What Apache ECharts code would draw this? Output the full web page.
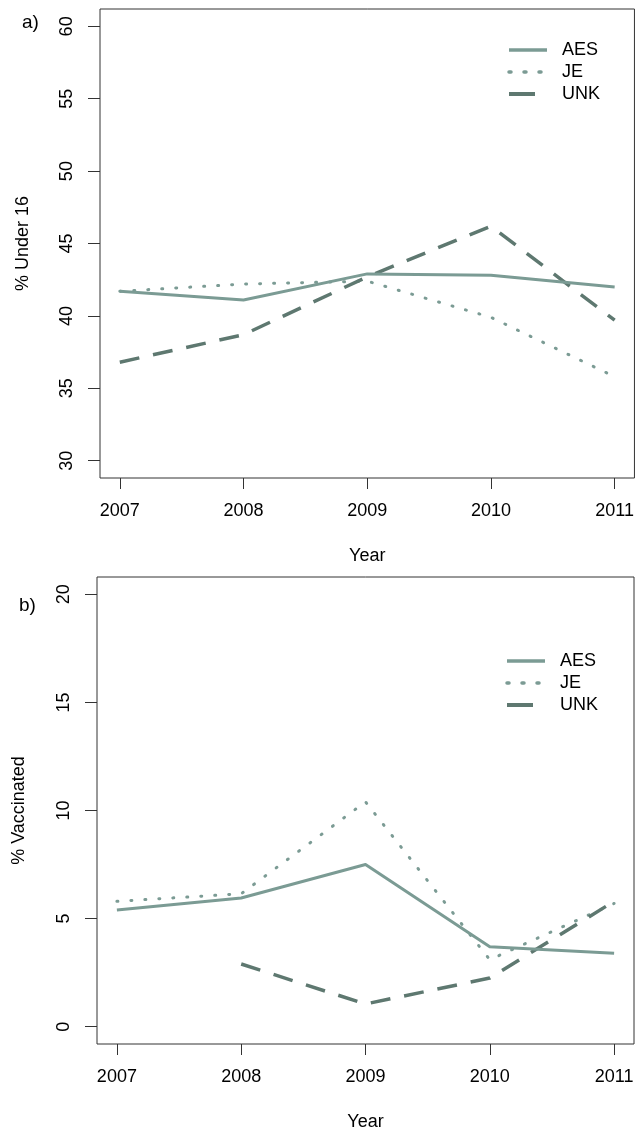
<!DOCTYPE html>
<html><head><meta charset="utf-8">
<script src="https://cdn.jsdelivr.net/npm/echarts@6/dist/echarts.min.js"></script>
<style>html,body{margin:0;padding:0;background:#fff}#c{width:637px;height:1132px}</style>
</head><body><div id="c"></div>
<script>
const years = [2007, 2008, 2009, 2010, 2011];
const under16AES = [41.7, 41.1, 42.9, 42.8, 42.0];
const under16JE  = [41.7, 42.2, 42.4, 39.9, 35.8];
const under16UNK = [36.8, 38.7, 42.7, 46.2, 39.7];
const vaccAES = [5.4, 5.95, 7.5, 3.7, 3.4];
const vaccJE  = [5.8, 6.15, 10.4, 3.1, 5.7];
const vaccUNK = [null, 2.9, 1.05, 2.25, 5.8];
const yTicksA = [30, 35, 40, 45, 50, 55, 60];
const yTicksB = [0, 5, 10, 15, 20];
const seriesNames = ['AES', 'JE', 'UNK'];

const FONT = '"Liberation Sans", Arial, Helvetica, sans-serif';
const cAES = '#7b9b94', cJE = '#7b9b94', cUNK = '#5e7870';
const txt = { fontFamily: FONT, fontSize: 18, color: '#000' };

function lineSeries(name, vals, gi, color, type, width, cap) {
  return {
    name, type: 'line', xAxisIndex: gi, yAxisIndex: gi, symbol: 'none', symbolSize: 0,
    data: years.map((y, i) => [y, vals[i]]),
    lineStyle: { color, width, type, cap: cap || 'butt', join: 'round' },
    itemStyle: { color }, animation: false, z: name === 'AES' ? 3 : 2
  };
}
function xAxis(g) {
  return {
    type: 'value', gridIndex: g, min: 2006.84, max: 2011.16,
    axisLine: { show: false, onZero: false }, splitLine: { show: false },
    axisTick: { show: true, length: 11, customValues: years, lineStyle: { color: '#333', width: 1 } },
    axisLabel: Object.assign({ customValues: years, formatter: v => String(v), margin: 24 }, txt),
    name: 'Year', nameLocation: 'middle', nameGap: 69, nameTextStyle: txt
  };
}
function yAxis(g, min, max, ticks, name, gap) {
  return {
    type: 'value', gridIndex: g, min, max,
    axisLine: { show: false, onZero: false }, splitLine: { show: false },
    axisTick: { show: true, length: 12, customValues: ticks, lineStyle: { color: '#333', width: 1 } },
    axisLabel: Object.assign({ customValues: ticks, rotate: 90, margin: 24, formatter: v => String(v) }, txt),
    name, nameLocation: 'middle', nameGap: gap, nameTextStyle: txt
  };
}
function legend(left, top) {
  return {
    left, top, padding: 0, orient: 'vertical', itemWidth: 38, itemHeight: 14, itemGap: 4,
    selectedMode: false,
    data: [
      { name: seriesNames[0], lineStyle: { width: 3.5, type: 'solid', color: cAES } },
      { name: seriesNames[1], lineStyle: { width: 3.5, type: [2, 13], color: cJE } },
      { name: seriesNames[2], lineStyle: { width: 4, type: [26, 20], color: cUNK } }
    ],
    itemStyle: { opacity: 0 },
    textStyle: Object.assign({ padding: [0, 0, 0, 10] }, txt)
  };
}

const chart = echarts.init(document.getElementById('c'), null, { renderer: 'canvas' });
chart.setOption({
  backgroundColor: '#fff',
  animation: false,
  title: [
    { text: 'a)', left: 17, top: 8, textStyle: { fontFamily: FONT, fontSize: 19, fontWeight: 'normal', color: '#000' } },
    { text: 'b)', left: 14, top: 591, textStyle: { fontFamily: FONT, fontSize: 19, fontWeight: 'normal', color: '#000' } }
  ],
  grid: [
    { left: 100, top: 9, width: 536, height: 469, show: true, borderColor: '#333', borderWidth: 1, backgroundColor: 'transparent' },
    { left: 97, top: 577, width: 537, height: 470, show: true, borderColor: '#333', borderWidth: 1, backgroundColor: 'transparent' }
  ],
  legend: [legend(507, 41), legend(505, 652)],
  xAxis: [xAxis(0), xAxis(1)],
  yAxis: [
    yAxis(0, 28.8, 61.2, yTicksA, '% Under 16', 68),
    yAxis(1, -0.8, 20.8, yTicksB, '% Vaccinated', 69)
  ],
  series: [
    lineSeries('AES', under16AES, 0, cAES, 'solid', 3),
    lineSeries('JE', under16JE, 0, cJE, [1, 13], 3, 'round'),
    lineSeries('UNK', under16UNK, 0, cUNK, [20, 14], 3.5),
    lineSeries('AES', vaccAES, 1, cAES, 'solid', 3),
    lineSeries('JE', vaccJE, 1, cJE, [1, 13], 3, 'round'),
    lineSeries('UNK', vaccUNK, 1, cUNK, [20, 14], 3.5)
  ]
});
</script></body></html>
